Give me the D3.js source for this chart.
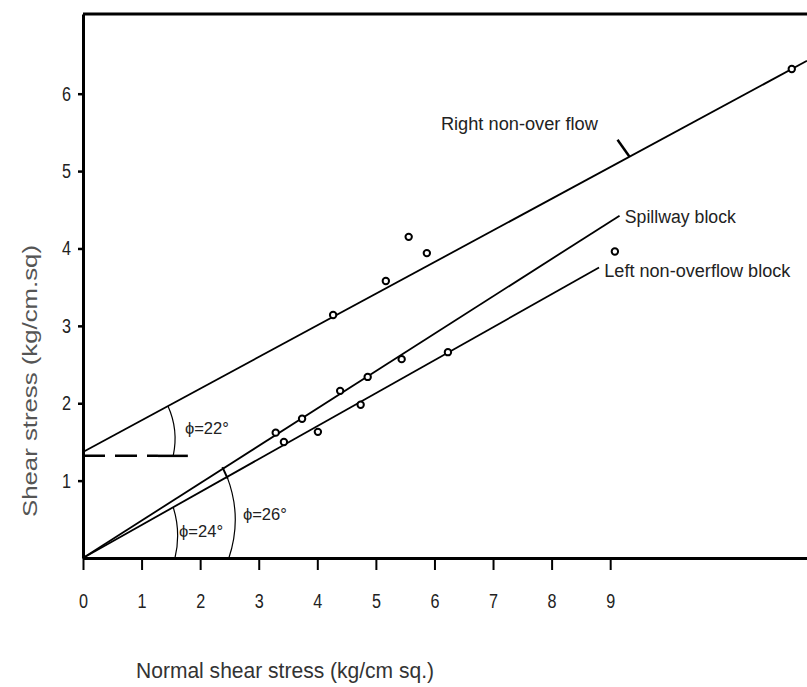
<!DOCTYPE html>
<html><head><meta charset="utf-8">
<script src="https://cdn.jsdelivr.net/npm/d3@7"></script>
<style>body{margin:0;background:#fff}svg{display:block}</style></head>
<body>
<script>
// ---- data ----
const xTicks = [0,1,2,3,4,5,6,7,8,9];
const yTicks = [1,2,3,4,5,6];
const rightX = [4.27, 5.17, 5.56, 5.87, 12.10];
const rightY = [3.14, 3.58, 4.15, 3.94, 6.32];
const spillX = [3.29, 3.74, 4.39, 4.86, 5.44];
const spillY = [1.62, 1.80, 2.16, 2.34, 2.57];
const leftX  = [3.43, 4.01, 4.74, 6.23, 9.08];
const leftY  = [1.50, 1.63, 1.98, 2.66, 3.96];
const fitNames = ["Right non-over flow", "Spillway block", "Left non-overflow block"];
const fitIntercepts = [1.37, 0, 0];
const fitSlopes = [0.409, 0.483, 0.426];
const fitXEnd = [12.36, 9.16, 8.81];
const phiLabels = ["\u03D5=22\u00B0", "\u03D5=24\u00B0", "\u03D5=26\u00B0"];
const cohesion = 1.32;
const xTitle = "Normal shear stress (kg/cm sq.)";
const yTitle = "Shear stress (kg/cm.sq)";

const W = 807, H = 687;
const NARROW = "'Liberation Sans Narrow','Arial Narrow','Liberation Sans',Arial,sans-serif";
const svg = d3.select("body").append("svg").attr("width", W).attr("height", H);

const x = d3.scaleLinear().domain([0, 12.36]).range([83, 807]);
const y = d3.scaleLinear().domain([0, 7.03]).range([558, 14]);

// axes
const gx = svg.append("g").attr("transform", `translate(0,${y(0)})`)
  .call(d3.axisBottom(x).tickValues(xTicks).tickSize(12).tickSizeOuter(0).tickPadding(24).tickFormat(d3.format("d")));
gx.select(".domain").attr("stroke", "#000").attr("stroke-width", 3);
gx.selectAll(".tick line").attr("stroke", "#000").attr("stroke-width", 2);
gx.selectAll(".tick text").attr("font-family", NARROW).attr("font-size", 20).attr("fill", "#222")
  .attr("textLength", 9).attr("lengthAdjust", "spacingAndGlyphs");

const gy = svg.append("g").attr("transform", `translate(${x(0)},0)`)
  .call(d3.axisLeft(y).tickValues(yTicks).tickSize(5).tickSizeOuter(0).tickPadding(7).tickFormat(d3.format("d")));
gy.select(".domain").attr("stroke", "#000").attr("stroke-width", 3);
gy.selectAll(".tick line").attr("stroke", "#000").attr("stroke-width", 2.5);
gy.selectAll(".tick text").attr("font-family", NARROW).attr("font-size", 20).attr("fill", "#222")
  .attr("textLength", 9).attr("lengthAdjust", "spacingAndGlyphs");

// top border
svg.append("line").attr("x1", x(0)).attr("x2", x(12.36)).attr("y1", y(7.03)).attr("y2", y(7.03))
  .attr("stroke", "#000").attr("stroke-width", 3);

// fitted lines
const line = d3.line().x(d => x(d[0])).y(d => y(d[1]));
fitNames.forEach((n, i) => {
  const pts = [[0, fitIntercepts[i]], [fitXEnd[i], fitIntercepts[i] + fitSlopes[i] * fitXEnd[i]]];
  svg.append("path").attr("d", line(pts)).attr("fill", "none").attr("stroke", "#000").attr("stroke-width", 1.8);
});
const fy = (i, xv) => fitIntercepts[i] + fitSlopes[i] * xv;

// cohesion dashed line
svg.append("line").attr("x1", x(0)).attr("x2", x(1.28)).attr("y1", y(cohesion)).attr("y2", y(cohesion))
  .attr("stroke", "#000").attr("stroke-width", 2.5).attr("stroke-dasharray", "22,10");
svg.append("line").attr("x1", x(1.28)).attr("x2", x(1.79)).attr("y1", y(cohesion)).attr("y2", y(cohesion))
  .attr("stroke", "#000").attr("stroke-width", 2.5);

// angle arcs
function arcPath(x1, y1, x2, y2, r) {
  return `M${x1},${y1} A${r},${r} 0 0 1 ${x2},${y2}`;
}
const arcs = [
  {xt: 1.45, yt: fy(0, 1.45), xb: 1.54, yb: cohesion, r: 80},
  {xt: 1.54, yt: fy(2, 1.54), xb: 1.57, yb: 0, r: 95},
  {xt: 2.46, yt: fy(2, 2.46), xb: 2.49, yb: 0, r: 120}
];
arcs.forEach(a => {
  svg.append("path").attr("d", arcPath(x(a.xt), y(a.yt), x(a.xb), y(a.yb), a.r))
    .attr("fill", "none").attr("stroke", "#000").attr("stroke-width", 1.2);
});
// small cross tick on lower lines
svg.append("line").attr("x1", x(2.38)).attr("y1", y(fy(1, 2.38)) - 2).attr("x2", x(2.47)).attr("y2", y(fy(2, 2.47)) + 2)
  .attr("stroke", "#000").attr("stroke-width", 2);
// stub on right line
svg.append("line").attr("x1", x(9.33)).attr("y1", y(fy(0, 9.33))).attr("x2", x(9.33) - 12).attr("y2", y(fy(0, 9.33)) - 17)
  .attr("stroke", "#000").attr("stroke-width", 2.5);

// phi labels
const phiPos = [[1.74, 1.60], [1.64, 0.27], [2.73, 0.49]];
phiLabels.forEach((t, i) => {
  svg.append("text").attr("x", x(phiPos[i][0])).attr("y", y(phiPos[i][1]))
    .attr("font-family", NARROW).attr("font-size", 17).attr("fill", "#222")
    .attr("textLength", 44).attr("lengthAdjust", "spacingAndGlyphs").text(t);
});

// data points
const series = [[rightX, rightY], [spillX, spillY], [leftX, leftY]];
series.forEach(([xs, ys]) => {
  svg.append("g").selectAll("circle").data(xs).join("circle")
    .attr("cx", (d) => x(d)).attr("cy", (d, j) => y(ys[j])).attr("r", 3.2)
    .attr("fill", "#fff").attr("stroke", "#000").attr("stroke-width", 2);
});

// fit labels
const labelPos = [[6.11, 5.53], [9.25, fy(1, 9.16) - 0.09], [8.9, fy(2, 8.81) - 0.12]];
const labelLen = [157, 111, 186];
fitNames.forEach((n, i) => {
  svg.append("text").attr("x", x(labelPos[i][0])).attr("y", y(labelPos[i][1]))
    .attr("font-family", NARROW).attr("font-size", 18).attr("fill", "#222")
    .attr("textLength", labelLen[i]).attr("lengthAdjust", "spacingAndGlyphs").text(n);
});

// axis titles
svg.append("text").attr("x", 136).attr("y", 678)
  .attr("font-family", NARROW).attr("font-size", 22).attr("fill", "#333")
  .attr("textLength", 298).attr("lengthAdjust", "spacingAndGlyphs").text(xTitle);
svg.append("text").attr("transform", "translate(37,517) rotate(-90)")
  .attr("font-family", "'Liberation Sans',Arial,sans-serif").attr("font-size", 20).attr("fill", "#555")
  .attr("textLength", 272).attr("lengthAdjust", "spacingAndGlyphs").text(yTitle);
</script>
</body></html>
